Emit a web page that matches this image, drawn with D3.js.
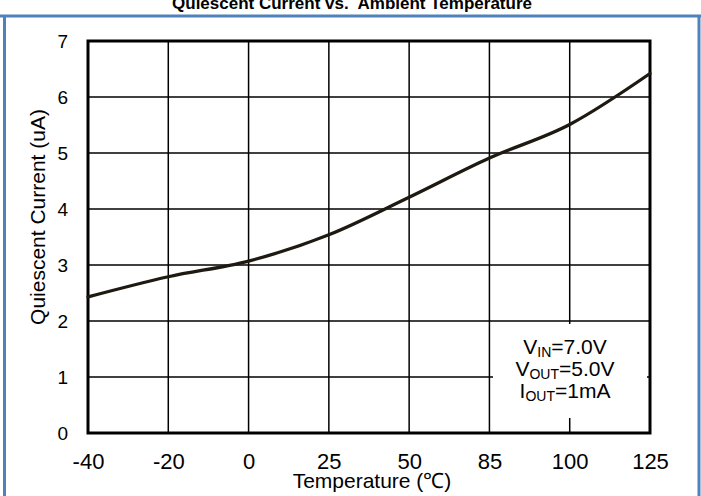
<!DOCTYPE html>
<html>
<head>
<meta charset="utf-8">
<script src="https://cdn.jsdelivr.net/npm/d3@7"></script>
<style>
  html, body { margin: 0; padding: 0; background: #fff; }
  svg { display: block; }
  text { font-family: "Liberation Sans", Arial, sans-serif; fill: #000; }
</style>
</head>
<body>
<svg id="chart" width="701" height="496"></svg>
<script>
// Temperature points (°C), drawn as evenly spaced categories
const temperatures = ["-40", "-20", "0", "25", "50", "85", "100", "125"];
// Quiescent current at each temperature (uA)
const quiescentCurrent = [2.43, 2.79, 3.07, 3.54, 4.21, 4.91, 5.51, 6.42];
// Y axis ticks (uA)
const currentTicks = [0, 1, 2, 3, 4, 5, 6, 7];
// Test conditions shown in the note box: [main, subscript, rest]
const conditions = [
  ["V", "IN", "=7.0V"],
  ["V", "OUT", "=5.0V"],
  ["I", "OUT", "=1mA"]
];

const svg = d3.select("#chart");
const W = 701, H = 496;
const plot = { left: 88, right: 650, top: 41, bottom: 433 };

// Frame around the figure
const frameColor = "#4f81bd";
svg.append("line").attr("x1", 0).attr("x2", W).attr("y1", 16).attr("y2", 16)
  .attr("stroke", frameColor).attr("stroke-width", 3);
svg.append("line").attr("x1", 4.5).attr("x2", 4.5).attr("y1", 16).attr("y2", H)
  .attr("stroke", frameColor).attr("stroke-width", 3);
svg.append("line").attr("x1", 699).attr("x2", 699).attr("y1", 16).attr("y2", H)
  .attr("stroke", frameColor).attr("stroke-width", 3);

// Title
svg.append("text")
  .attr("x", 352).attr("y", 9)
  .attr("text-anchor", "middle")
  .style("font-size", "17px").style("font-weight", "bold")
  .style("white-space", "pre")
  .text("Quiescent Current vs.  Ambient Temperature");

const x = d3.scalePoint().domain(temperatures).range([plot.left, plot.right]);
const y = d3.scaleLinear().domain([0, 7]).range([plot.bottom, plot.top]);

// Grid
const grid = svg.append("g").attr("stroke", "#000").attr("stroke-width", 1.5);
grid.selectAll(".vg").data(temperatures.slice(1, -1)).enter().append("line")
  .attr("x1", d => x(d)).attr("x2", d => x(d))
  .attr("y1", plot.top).attr("y2", plot.bottom);
grid.selectAll(".hg").data(currentTicks.slice(1, -1)).enter().append("line")
  .attr("x1", plot.left).attr("x2", plot.right)
  .attr("y1", d => y(d)).attr("y2", d => y(d));

// Note box with test conditions
const noteBox = { x0: 493, x1: 647, y0: 324, y1: 418 };
svg.append("rect")
  .attr("x", noteBox.x0).attr("y", noteBox.y0)
  .attr("width", noteBox.x1 - noteBox.x0).attr("height", noteBox.y1 - noteBox.y0)
  .attr("fill", "#fff");
const note = svg.append("g");
conditions.forEach((c, i) => {
  const t = note.append("text")
    .attr("x", 565).attr("y", 354 + i * 22)
    .attr("text-anchor", "middle")
    .style("font-size", "21px");
  t.append("tspan").text(c[0]);
  t.append("tspan").attr("dy", 3).style("font-size", "14px").text(c[1]);
  t.append("tspan").attr("dy", -3).text(c[2]);
});

// Plot border
svg.append("rect")
  .attr("x", plot.left).attr("y", plot.top)
  .attr("width", plot.right - plot.left).attr("height", plot.bottom - plot.top)
  .attr("fill", "none").attr("stroke", "#000").attr("stroke-width", 3);

// Curve
const line = d3.line()
  .x((d, i) => x(temperatures[i]))
  .y(d => y(d))
  .curve(d3.curveMonotoneX);
svg.append("path")
  .datum(quiescentCurrent)
  .attr("d", line)
  .attr("fill", "none")
  .attr("stroke", "#1e1a12")
  .attr("stroke-width", 3.3)
  .attr("stroke-linecap", "round");

// Axes (labels only)
const xAxis = svg.append("g")
  .attr("transform", `translate(0,${plot.bottom})`)
  .call(d3.axisBottom(x).tickSize(0).tickPadding(0));
xAxis.select(".domain").remove();
xAxis.selectAll("text")
  .attr("y", 36).attr("dy", null)
  .style("font-size", "22px")
  .style("font-family", '"Liberation Sans", Arial, sans-serif')
  .attr("fill", "#000");

const yAxis = svg.append("g")
  .attr("transform", `translate(${plot.left},0)`)
  .call(d3.axisLeft(y).tickValues(currentTicks).tickFormat(d3.format("d")).tickSize(0).tickPadding(0));
yAxis.select(".domain").remove();
yAxis.selectAll("text")
  .attr("x", -20).attr("dy", "0.35em")
  .style("font-size", "19px")
  .style("font-family", '"Liberation Sans", Arial, sans-serif')
  .attr("fill", "#000");

// Axis titles
svg.append("text")
  .attr("x", 372).attr("y", 488)
  .attr("text-anchor", "middle")
  .style("font-size", "21px")
  .text("Temperature (\u2103)");
svg.append("text")
  .attr("transform", "translate(45,217) rotate(-90)")
  .attr("text-anchor", "middle")
  .style("font-size", "21px")
  .text("Quiescent Current (uA)");
</script>
</body>
</html>
